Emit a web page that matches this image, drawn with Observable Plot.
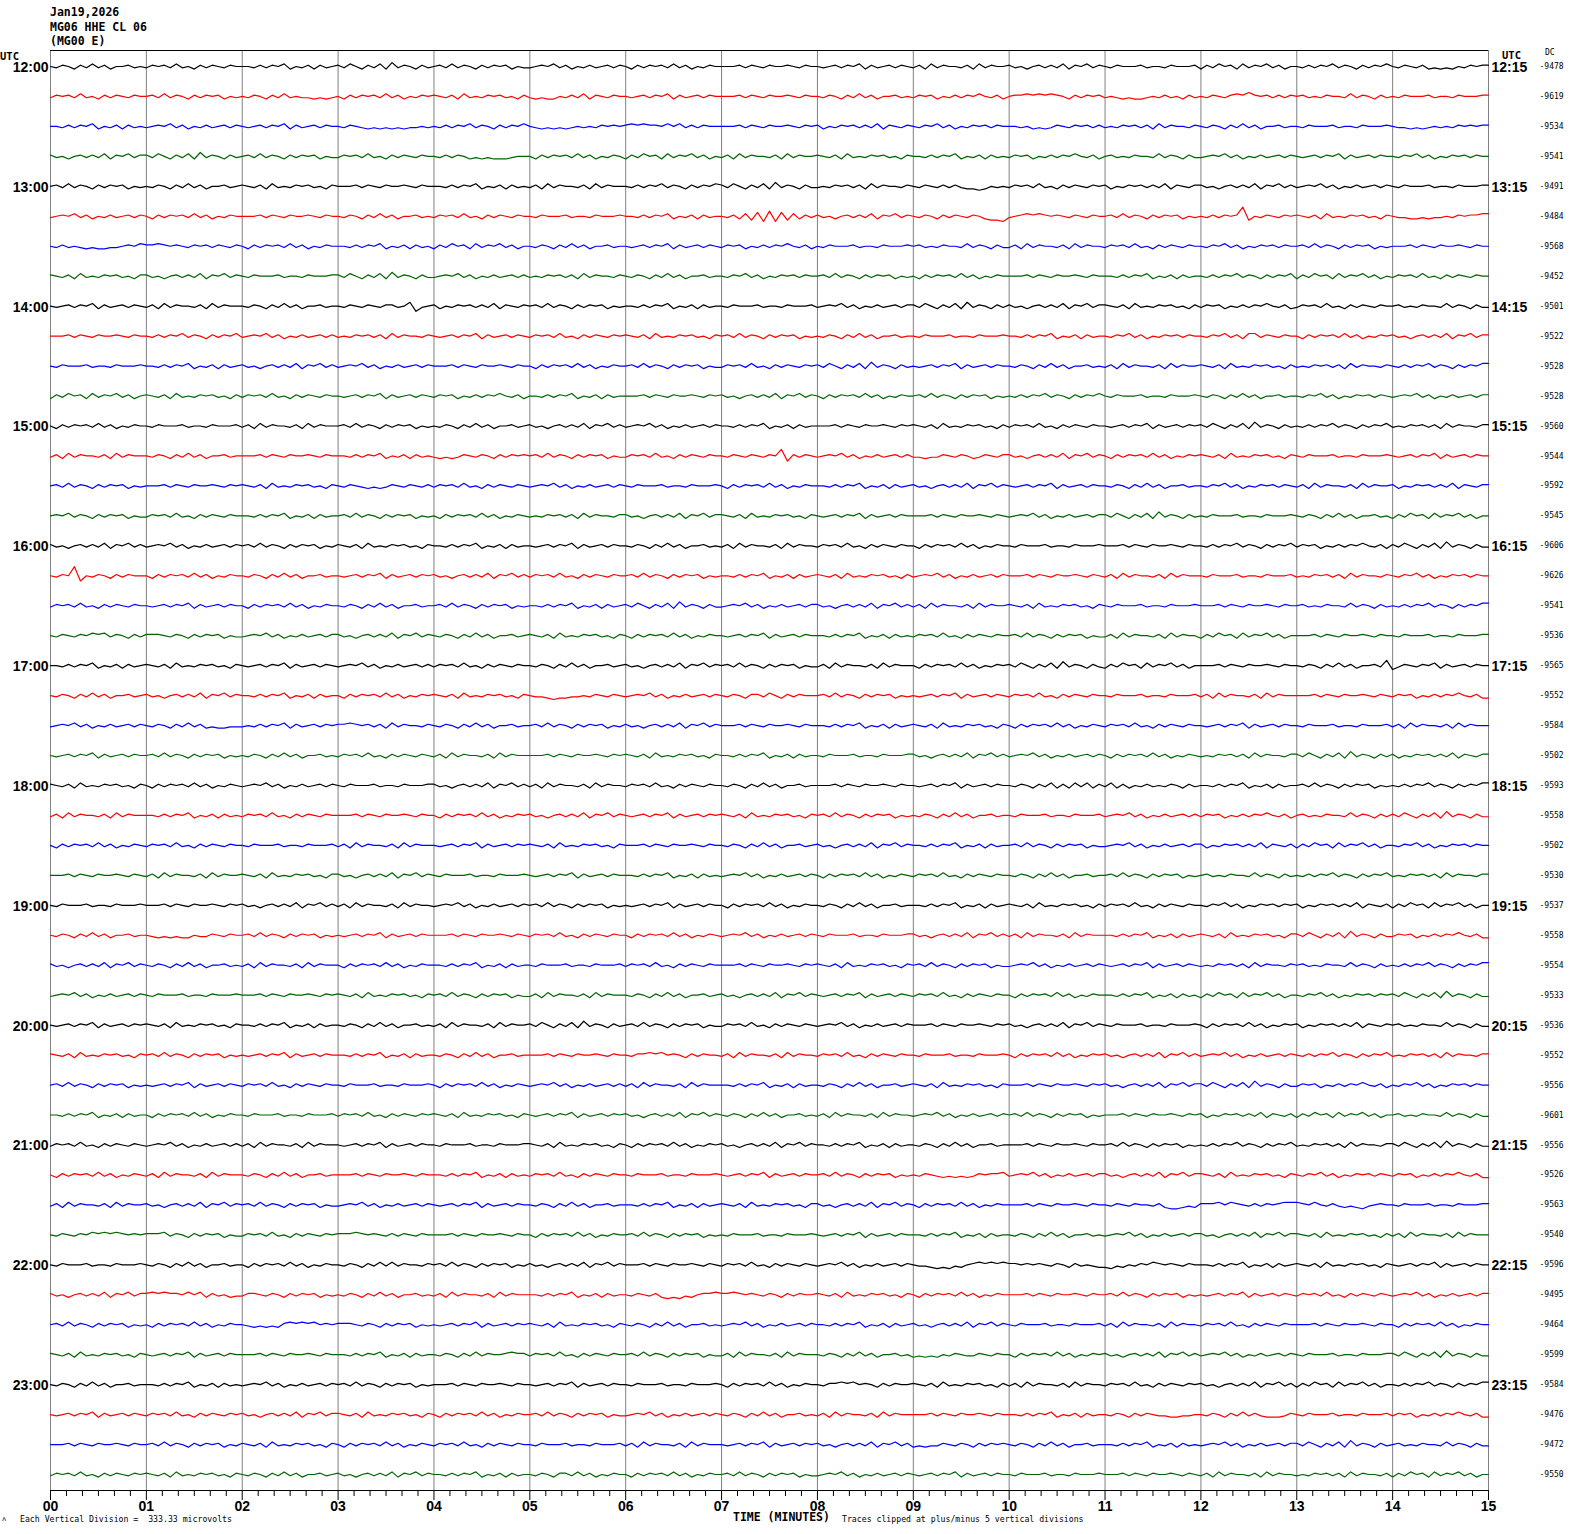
<!DOCTYPE html>
<html><head><meta charset="utf-8">
<script src="https://cdn.jsdelivr.net/npm/d3@7"></script>
<script src="https://cdn.jsdelivr.net/npm/@observablehq/plot@0.6"></script>
<style>
body{margin:0;background:#fff;}
#wrap{position:relative;width:1570px;height:1534px;overflow:hidden;background:#fff;}
.t{position:absolute;white-space:pre;font-family:"DejaVu Sans Mono",monospace;color:#000;line-height:1;}
</style></head><body><div id="wrap"></div>
<script>
// ---------- data ----------
const headerLines = ["Jan19,2026", "MG06 HHE CL 06", "(MG00 E)"];
const startLabels = ["12:00","13:00","14:00","15:00","16:00","17:00","18:00","19:00","20:00","21:00","22:00","23:00"];
const endLabels = ["12:15","13:15","14:15","15:15","16:15","17:15","18:15","19:15","20:15","21:15","22:15","23:15"];
const dcValues = [
  -9478,-9619,-9534,-9541, -9491,-9484,-9568,-9452, -9501,-9522,-9528,-9528,
  -9560,-9544,-9592,-9545, -9606,-9626,-9541,-9536, -9565,-9552,-9584,-9502,
  -9593,-9558,-9502,-9530, -9537,-9558,-9554,-9533, -9536,-9552,-9556,-9601,
  -9556,-9526,-9563,-9540, -9596,-9495,-9464,-9599, -9584,-9476,-9472,-9550
];
const traceColors = ["#000000", "#ff0000", "#0000ff", "#006400"];
const minuteTicks = [0,1,2,3,4,5,6,7,8,9,10,11,12,13,14,15];
const minuteLabels = ["00","01","02","03","04","05","06","07","08","09","10","11","12","13","14","15"];
// one string per 15-minute trace; one group of samples per minute; digit 5 = trace baseline
const traces = [
"5465364746355645 4656474536465465 5546465735463645 6475364738465364 5647465364656354 4565746354645646 5364656474635465 5556465465565465 5456465736456465 4637465546374655 6453564647365746 5465556455465556 3647563746574635 5464657465364657 5465463434354656",
"4656474536465465 5647465364656354 5465364745443434 5364656474635465 6546374546564536 4343354647365465 5456465736456465 5556465465565465 5465364746355645 4656354646575463 5667676765364656 4543433454645364 5465467686564646 5645465547465364 5465556455465556",
"5546465735463645 4565746354645646 5456465736456465 5465434343434454 5464657465364657 5434343454546565 6767665757464655 5556465465565465 6354656464736546 5465746354656465 5545343465465646 4546564637465546 5465364746355645 5465556455465556 5443434545465656",
"6453564647365746 6475364738465364 5647465364656354 4656474536465465 5464653434333455 5364656474635465 3647563746574635 4637465546374655 6546374546564536 5546465735463645 4656354646575463 5645465547465364 4565746354645646 5456465736456465 5465746354656465",
"5647465364656354 5465364746355645 6546374546564536 5556465465565465 5546465735463645 4637465546374655 5464657465364657 6475364738465364 4546564637465546 5465464643323545 4656474536465465 6354656464736546 6453564647365746 4565746354645646 5465556455465556",
"4565746354645646 5364656474635465 5556465465565465 5465364746355645 4656474536465465 5465556455465556 5546465735463645 5463728191827364 6453564647365746 5465364654653221 4567676565465465 5647465364656354 5464656c25465465 6546374546564536 5443343445465667",
"5464543433445657 6676565465646546 5364656474635465 5546465735463645 3647563746574635 5465364746355645 5456465736456465 4656354646575463 5465556455465556 5645465547465364 4637465546374655 4656474536465465 5465746354656465 5647465364656354 5556465465565465",
"6546374546564536 6453564647365746 5465556455465556 6475364738465364 4565746354645646 4546564637465546 5465364746355645 5465746354656465 5647465364656354 5364656474635465 5556465465565465 5546465735463645 5464657465364657 3647563746574635 4656474536465465",
"5456465736456465 4637465546374655 5465364746355645 5465465466458145 6354656464736546 5647465364656354 5546465735463645 5465556455465556 4565746354645646 6475364738465364 6453564647365746 6546374546564536 4656354646575463 4656474536465465 5645465547465364",
"5556465465565465 5464657465364657 4565746354645646 4546564637465546 5456465736456465 4656474536465465 6546374546564536 5647465364656354 5465364746355645 5465556455465556 5546465735463645 5465746354656465 5465746377465465 5364656474635465 6453564647365746",
"5465556455465556 5546465735463645 6453564647365746 4565746354645646 5556465465565465 5364656474635465 5647465364656354 4656474536465465 6475364738465364 5456465736456465 5465364746355645 4637465546374655 6546374546564536 4546564637465546 5464657465364657",
"3647563746574635 6546374546564536 4656474536465465 5456465736456465 4656354646575463 5546465735463645 5556465465565465 6453564647365746 5364656474635465 5647465364656354 5464657465364657 5465556455465556 5465364746355645 5465746354656465 4565746354645646",
"5364656474635465 5465556455465556 4637465546374655 5647465364656354 5465364746355645 6453564647365746 4565746354645646 5546465735463645 5556465465565465 6546374546564536 4656474536465465 5456465736456465 6475364738465364 5464657465364657 4546564637465546",
"4637465546374655 5465364746355645 5556465465565465 5546465735463645 4343465465364656 5647465364656354 4656474536465465 5465465465a16465 4565746354645646 4434465465346546 6453564647365746 5364656474635465 6546374546564536 5465556455465556 5456465736456465",
"5647465364656354 5556465465565465 6546374546564536 5465434346546546 4656474536465465 4565746354645646 5465556455465556 5364656474635465 5546465735463645 6453564647365746 5456465736456465 5465364746355645 5465746354656465 4637465546374655 6354656464736546",
"5657465364656354 4656474536465465 5546465735463645 5647465364656354 5364656474635465 4546564637465546 6453564647365746 6546374546564536 5456465736456465 5556465465565465 4565746354645646 6475364738465364 5465556455465556 5465364746355645 3647563746574635",
"6453564647365746 4565746354645646 5647465364656354 6546374546564536 5546465735463645 5456465736456465 5465364746355645 4637465546374655 4656474536465465 5364656474635465 5465556455465556 5556465465565465 5464657465364657 4656354646575463 6475364738465364",
"5465c15465364655 5364656474635465 5465364746355645 5456465736456465 6453564647365746 4656474536465465 5647465364656354 5546465735463645 6546374546564536 4565746354645646 5556465465565465 4637465546374655 5465556455465556 4546564637465546 5465746354656465",
"4656474536465465 5456465736456465 5364656474635465 5465364746355645 5647465364656354 5546465735463645 6475364738465364 4565746354645646 6453564647365746 4637465546374655 6546374546564536 5465556455465556 5556465465565465 5645465547465364 5464657465364657",
"5465465767465364 6665465364656354 4565746354645646 6453564647365746 5465364746355645 6546374546564536 5364656474635465 5456465736456465 5546465735463645 4656474536465465 5647465364656354 4637465546374655 3647563746574635 5556465465565465 5465556455465556",
"5546465735463645 6546374546564536 5456465736456465 4565746354645646 4656474536465465 5465364746355645 6453564647365746 5647465364656354 4637465546374655 5364656474635465 6475364738465364 3647563746574635 5556465465565465 5465364746355649 2465465736456465",
"5465364746355645 6453564647365746 5546465735463645 5364656474635465 6546374546564536 5443233445465465 4565746354645646 5465366475364655 5647465364656354 5456465736456465 4656474536465465 5465556455465556 4637465546374655 5556465465565465 4656354646575463",
"4565746354645646 5465364746343344 4546465736456465 6676564637465546 5465364746355645 5647465364656354 6453564647365746 5556465465565465 5546465735463645 6546374546564536 5364656474635465 4656474536465465 5456465736456465 5465556455465556 4637465546374655",
"5456465736456465 5647465364656354 5465364746355645 4656474536465465 4637465546374655 5556465465565465 6546374546564536 5546465735463645 5465556455465556 6453564647365746 4565746354645646 5364656474635465 4546564637465546 6475364738465364 6354656464736546",
"6546374546564536 5364656474635465 4565746354645646 5465556455465556 6453564647365746 4637465546374655 4656474536465465 5465364746355645 5556465465565465 5456465736456465 5465364736374736 4736354645465364 5546465735463645 5647465364656354 5464657465364657",
"4637465546374655 5546465735463645 4656474536465465 5556465465565465 5364656474635465 6453564647365746 5456465736456465 6546374546564536 5647465364656354 5465364746355645 5465556455465556 4565746354645646 4656354646575463 5645465547465364 6475364738465364",
"5364656474635465 4656474536465465 5465556455465556 4637465546374655 5456465736456465 6546374546564536 5556465465565465 5465364746355645 6453564647365746 5546465735463645 5647465364656354 4565746354645646 6354656464736546 3647563746574635 5465746354656465",
"5556465465565465 4637465546374655 6546374546564536 6453564647365746 5465556455465556 5456465736456465 5546465735463645 4565746354645646 5364656474635465 4656474536465465 5465364746355645 5647465364656354 5645465547465364 5464657465364657 4546564637465546",
"5465556455465556 5556465465565465 6453564647365746 4637465546374655 4565746354645646 5647465364656354 5456465736456465 5364656474635465 5465364746355645 5546465735463645 6546374546564536 4656474536465465 5465746354656465 6354656464736546 3647563746574635",
"5465364746355645 5434343354465465 5647465364656354 5456465736456465 5556465465565465 4656474536465465 5364656474635465 4565746354645646 5465556455465556 6453564647365746 4637465546374655 5546465735463645 6546374546564536 6475364738465364 4656354646575463",
"6453564647365746 5465364746355645 4637465546374655 5364656474635465 5546465735463645 5465556455465556 4656474536465465 5556465465565465 6546374546564536 5647465364656354 4565746354645646 5456465736456465 4546564637465546 5645465547465364 5464657465364657",
"4565746354645646 5465556455465556 5556465465565465 6546374546564536 5647465364656354 4637465546374655 5465364746355645 6453564647365746 5456465736456465 4656474536465465 5364656474635465 5546465735463645 3647563746574635 5465746354656465 6475364738465364",
"5456465736456465 6546374546564536 5546465735463645 5465364746355645 4637465546374655 6475364738465364 5647465364656354 4656474536465465 4565746354645646 5556465465565465 6453564647365746 5465556455465556 5364656474635465 6354656464736546 5645465547465364",
"6546374546564536 5647465364656354 5456465736456465 5546465735463645 5465364746355645 5556465465565465 5466767565364655 4637465546374655 4656474536465465 5465556455465556 5364656474635465 6453564647365746 4565746354645646 5464657465364657 4546564637465546",
"5647465364656354 5456465736456465 4656474536465465 5465556455465556 5364656474635465 4565746354645646 4637465546374655 5546465735463645 5465364746355645 6546374546564536 5556465465565465 6453564647365746 6475364738465364 4656354646575463 5465746354656465",
"5546465735463645 5364656474635465 5465556455465556 4656474536465465 6546374546564536 5456465736456465 6453564647365746 5465364746355645 4637465546374655 4565746354645646 5647465364656354 5556465465565465 6354656464736546 3647563746574635 5645465547465364",
"4656474536465465 4565746354645646 4637465546374655 5456465736456465 5465556455465556 6546374546564536 5364656474635465 6453564647365746 5546465735463645 5465364746355645 5556465465565465 5647465364656354 5464657465364657 4546564637465546 6475364738465364",
"5364656474635465 4637465546374655 5465364746355645 5556465465565465 5546465735463645 4656474536465465 5465556455465556 5456465736456465 5647465364656354 5465434343465667 4565746354645646 6453564647365746 6546374546564536 5465746354656465 4656354646575463",
"4637465546374655 6453564647365746 5647465364656354 4565746354645646 5456465736456465 5465364746355645 5546465735463645 6546374546564536 6453564647365746 5364656474635465 5556465465565465 5465465546322343 6667576546465677 7657546434324565 5465556455465556",
"5465465767676565 6667465364656354 4656474536465465 6667656546465465 5556465465565465 5364656474635465 5647465364656354 5465556455465556 5456465736456465 5546465735463645 5465364746355645 4565746354645646 6453564647365746 6546374546564536 4637465546374655",
"5465556455465556 5465364746355645 5364656474635465 5465364747465546 5647465364656354 6453564647365746 5556465465565465 4656474536465465 4565746354645646 5443232435676767 6656565465364543 3243546576565465 5546465735463645 6546374546564536 5456465736456465",
"6453564647365746 6767665757364534 4665465364656354 5465364746355645 4637465546374655 5546465735463645 5465463232435667 6676565465364655 6546374546564536 5364656474635465 5556465465565465 5647465364656354 5456465736456465 4656474536465465 4565746354645646",
"5647465364656354 5364656474635465 5434343676767565 6665465364656354 5456465736456465 6546374546564536 5465364746355645 4565746354645646 5546465735463645 6453564647365746 5465556455465556 4637465546374655 4656474536465465 5556465465565465 5364656474635465",
"6546374546564536 5456465736456465 5556465465565465 5546465735463645 5465364746556766 4656474536465465 5647465364656354 4637465546374655 5465364746355645 3434354654465465 5364656474635465 6453564647365746 4565746354645646 5465556455465556 6475364738465364",
"5465364746355645 5546465735463645 4565746354645646 5647465364656354 5556465465565465 5456465736456465 5465556455465556 5364656474635465 5466767565364655 6546374546564536 4637465546374655 4656474536465465 6453564647365746 3647563746574635 5464657465364657",
"5456465736456465 4656474536465465 6453564647365746 6546374546564536 5364656474635465 5647465364656354 4565746354645646 5465364746355645 4637465546374655 5556465465565465 5546465735463645 5465364654433445 5465364746433346 5465556455465556 4656354646575463",
"5556465465565465 5647465364656354 6546374546564536 5364656474635465 4656474536465465 5465556455465556 4637465546374655 5456465736456465 6453564647365746 3434465465364656 5465364746355645 5546465735463645 4565746354645646 6475364738465364 5645465547465364",
"4656474536465465 6546374546564536 5465364746355645 6453564647365746 5546465735463645 5465366474635465 5364656474635465 5647465364656354 4565746354645646 5456465736456465 5465556455465556 5556465465565465 4637465546374655 4546564637465546 3647563746574635"
];

// ---------- layout ----------
const W = 1570, H = 1534;
const mTop = 50, mBottom = 44, mLeft = 50, mRight = 82;
const nRows = traces.length;
const rowPx = (H - mTop - mBottom - 32) / (nRows - 1);
const pad = 16 / rowPx;
const amp = 1.3 / rowPx;        // one sample unit in row units
const bottomRow = nRows - 1 + pad;
const minorTicks = d3.range(0, 90).filter(i => i % 6 !== 0).map(i => i / 6);

const pts = [];
traces.forEach((s, row) => {
  const groups = s.trim().split(/\s+/);
  let last = 5;
  groups.forEach((g, m) => {
    for (let j = 0; j < g.length; j++) {
      last = parseInt(g[j], 36);
      pts.push({row, t: m + j / g.length, v: last});
    }
  });
  pts.push({row, t: groups.length, v: last});
});

const rowsInfo = dcValues.map((dc, i) => ({row: i, dc}));
const hourRows = startLabels.map((s, i) => ({row: i * 4, start: s, end: endLabels[i]}));

const lineMarks = traceColors.map((c, k) =>
  Plot.line(pts.filter(d => d.row % 4 === k), {
    x: "t", y: d => d.row - (d.v - 5) * amp, z: "row",
    stroke: c, strokeWidth: 1.2, curve: "linear"
  })
);

const chart = Plot.plot({
  width: W, height: H,
  marginTop: mTop, marginBottom: mBottom, marginLeft: mLeft, marginRight: mRight,
  style: {fontFamily: "'Liberation Sans', Arial, sans-serif", fontSize: "14px", fontWeight: "bold", background: "#fff", overflow: "visible"},
  x: {domain: [0, 15], ticks: minuteTicks, tickFormat: (d) => minuteLabels[d], tickSize: 10, tickPadding: 1, label: null, line: true},
  y: {domain: [bottomRow, -pad], axis: null},
  marks: [
    Plot.ruleX(minuteTicks, {stroke: "#808080", strokeWidth: 1}),
    Plot.ruleY([-pad], {stroke: "#000", strokeWidth: 1}),
    Plot.ruleX(minorTicks, {y1: () => bottomRow, y2: () => bottomRow + 6 / rowPx, stroke: "#000", strokeWidth: 1}),
    ...lineMarks,
    Plot.text(hourRows, {x: () => 0, y: "row", text: "start", textAnchor: "end", dx: -2, dy: 1,
      fontFamily: "'Liberation Sans', Arial, sans-serif", fontSize: 14, fontWeight: "bold", fill: "#000"}),
    Plot.text(hourRows, {x: () => 15, y: "row", text: "end", textAnchor: "start", dx: 3, dy: 1,
      fontFamily: "'Liberation Sans', Arial, sans-serif", fontSize: 14, fontWeight: "bold", fill: "#000"}),
    Plot.text(rowsInfo, {x: () => 15, y: "row", text: d => String(d.dc), textAnchor: "start", dx: 51,
      fontFamily: "'DejaVu Sans Mono', monospace", fontSize: 8, fontWeight: "normal", fill: "#000"})
  ]
});

const wrap = document.getElementById("wrap");
wrap.appendChild(chart);
chart.style.position = "absolute";
chart.style.left = "0px";
chart.style.top = "0px";

function addText(txt, left, top, size, weight) {
  const el = document.createElement("div");
  el.className = "t";
  el.textContent = txt;
  el.style.left = left + "px";
  el.style.top = top + "px";
  el.style.fontSize = size + "px";
  el.style.fontWeight = weight || "normal";
  wrap.appendChild(el);
}
headerLines.forEach((s, i) => addText(s, 50, 7 + i * 14.6, 11.5, "bold"));
addText("UTC", 0, 51, 10.5, "bold");
addText("UTC", 1502, 50, 10.5, "bold");
addText("DC", 1545, 49, 8, "normal");
addText("Each Vertical Division =  333.33 microvolts", 20, 1515, 8.2, "normal");
addText("TIME (MINUTES)", 733, 1512, 11.5, "bold");
addText("Traces clipped at plus/minus 5 vertical divisions", 842, 1515, 8.2, "normal");
addText("\u028C", 2, 1516, 7, "normal");
</script>
</body></html>
